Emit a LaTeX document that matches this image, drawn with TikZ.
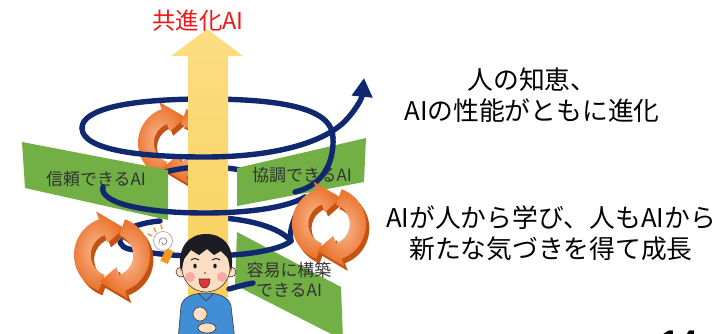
\documentclass[tikz,border=0pt]{standalone}
\usepackage{fontspec}
\setmainfont{Noto Sans CJK JP}
\newfontfamily\pagefont{Liberation Sans}
\usetikzlibrary{arrows.meta}

\definecolor{navy}{RGB}{16,40,112}
\definecolor{arrowyellow}{RGB}{249,208,92}
\definecolor{arrowlight}{RGB}{251,222,130}
\definecolor{bannergreen}{RGB}{114,176,70}
\definecolor{orangemain}{RGB}{234,112,40}
\definecolor{orangelight}{RGB}{248,185,145}
\definecolor{orangedark}{RGB}{196,82,18}
\definecolor{titlered}{RGB}{238,24,24}
\definecolor{textgray}{RGB}{50,50,50}
\definecolor{shirtblue}{RGB}{64,142,214}
\definecolor{skin}{RGB}{252,222,196}
\definecolor{cheek}{RGB}{246,170,160}
\definecolor{hairblack}{RGB}{28,28,36}
\definecolor{personline}{RGB}{70,50,40}
\definecolor{mouthred}{RGB}{226,50,60}
\definecolor{bulborange}{RGB}{245,150,30}

\tikzset{
	spiral/.style={draw=navy, line width=4.6pt, line cap=round},
	banner/.style={fill=bannergreen},
	bannertext/.style={text=textgray, font=\fontsize{14.5}{17}\selectfont, align=center, inner sep=0pt},
	righttext/.style={font=\fontsize{22}{26}\selectfont, align=center},
	recycleside/.style={fill=orangedark},
	recycleface/.style={inner color=orangelight, outer color=orangemain},
	person/.style={draw=personline, line width=0.5pt},
	bulbray/.style={draw=bulborange, line width=1.3pt, line cap=round}
}

\newcommand{\recycle}[4]{%
	\begin{scope}[shift={(#1,#2)}, yscale=-1, scale=#3, rotate=#4]
		\foreach \r in {0,180}
			\fill[recycleside, shift={(0.09,-0.12)}, rotate=\r] (250:1) arc[start angle=250, end angle=110, radius=1] -- (110:1.22) -- (65:0.78) -- (110:0.34) -- (110:0.56) arc[start angle=110, end angle=250, radius=0.56] -- cycle;
		\foreach \r in {0,180}
			\shade[recycleface, rotate=\r] (250:1) arc[start angle=250, end angle=110, radius=1] -- (110:1.22) -- (65:0.78) -- (110:0.34) -- (110:0.56) arc[start angle=110, end angle=250, radius=0.56] -- cycle;
	\end{scope}}

\begin{document}
\begin{tikzpicture}[x=0.03cm, y=-0.03cm]
	\useasboundingbox (0,0) rectangle (722,334);

	\recycle{174}{143}{36}{0}
	\draw[spiral] (333,138) .. controls (333,112) and (295,99) .. (205,99) .. controls (125,99) and (82,110) .. (82,128);
	\draw[spiral] (295,192) .. controls (268,175) and (242,167) .. (205,167) .. controls (183,167) and (168,171) .. (150,176) .. controls (128,181) and (108,182) .. (103,187);
	\draw[spiral] (291,241) .. controls (280,228) and (250,218) .. (205,217);
	\draw[spiral] (160,221) .. controls (145,222) and (122,228) .. (120,238) .. controls (119,246) and (125,249) .. (135,250);

	\fill[banner] (22,142) -- (168,170) -- (168,220) -- (25,188) -- cycle;
	\fill[banner] (237,168) -- (366,138) -- (364,182) -- (237,206) -- cycle;
	\fill[banner] (237,232) -- (341,287) -- (343,340) -- (235,285) -- cycle;
	\node[bannertext] (trust) at (96,179) {信頼できるAI};
	\node[bannertext] (coop) at (302,175) {協調できるAI};
	\node[bannertext] (easy) at (289,280) {容易に構築\\できるAI};

	\shade[top color=arrowlight, bottom color=arrowyellow] (188,297) -- (188,56) -- (171,56) -- (207,29) -- (243,56) -- (228,56) -- (228,297) -- cycle;

	\draw[spiral, -{Triangle[width=17pt, length=16pt]}] (82,128) .. controls (82,150) and (140,157) .. (205,157) .. controls (262,157) and (315,147) .. (342,124) .. controls (355,112) and (362,98) .. (364,78);
	\draw[spiral] (333,138) .. controls (334,160) and (325,185) .. (295,192);
	\draw[spiral] (103,187) .. controls (99,202) and (140,213) .. (205,213) .. controls (255,213) and (290,206) .. (305,197);
	\draw[spiral] (305,197) .. controls (298,210) and (288,228) .. (291,241);
	\draw[spiral] (135,250) .. controls (160,255) and (180,256) .. (205,256) .. controls (245,256) and (280,250) .. (291,241);
	\draw[spiral] (253,283) .. controls (243,285) and (236,287) .. (229,289);

	\recycle{112}{255}{38}{0}
	\recycle{329}{224}{37}{0}

	\draw[bulbray] (148,234) -- (152,236);
	\draw[bulbray] (154,228) -- (156,232);
	\draw[bulbray] (161,225) -- (162,229);
	\fill[bulborange, rotate around={-25:(167,256)}] (163,249) rectangle (171,263);
	\draw[fill=white, draw=gray!70, line width=0.6pt] (163,241) circle (9.5);
	\draw[gray, line width=0.6pt] (159,244) .. controls (157,238) and (166,235) .. (167,241) .. controls (167,245) and (161,246) .. (162,242);

	\fill[shirtblue, person] (178,340) -- (181,306) .. controls (183,297) and (193,293) .. (206,293) .. controls (219,293) and (229,297) .. (231,306) -- (235,340) -- cycle;
	\draw[person] (198,293) -- (206,301) -- (214,293);
	\fill[skin, person] (200,314) ellipse (7 and 7);
	\fill[skin, person] (207,328) ellipse (9 and 5);
	\fill[skin, person] (181,272) circle (5);
	\fill[skin, person] (231,272) circle (5);
	\fill[skin, person] (206,268) ellipse (24 and 24);
	\fill[cheek] (190,277) circle (5);
	\fill[cheek] (222,277) circle (5);
	\fill[hairblack] (181,272) .. controls (176,246) and (190,234) .. (206,234) .. controls (223,234) and (236,246) .. (231,272) -- (228,258) -- (221,251) -- (214,255) -- (207,249) -- (199,255) -- (191,250) -- (184,259) -- cycle;
	\draw[hairblack, line width=0.8pt] (191,260) .. controls (194,258) and (197,258) .. (199,260);
	\draw[hairblack, line width=0.8pt] (212,260) .. controls (214,258) and (217,258) .. (220,260);
	\fill[hairblack] (195,266) ellipse (1.7 and 2.4);
	\fill[hairblack] (215,266) ellipse (1.7 and 2.4);
	\fill[personline] (205,273) circle (0.8);
	\fill[mouthred, person] (199,279) -- (210,279) .. controls (210,291) and (199,291) .. (199,279) -- cycle;

	\node[text=titlered, font=\fontsize{20}{24}\selectfont] (title) at (198,21) {共進化AI};
	\node[righttext] (wisdom) at (532,95) {人の知恵、\\AIの性能がともに進化};
	\node[righttext] (growth) at (551,233) {AIが人から学び、人もAIから\\新たな気づきを得て成長};
	\node[anchor=north, inner sep=0pt, font=\pagefont\bfseries\fontsize{28}{30}\selectfont] (page) at (679,330.5) {14};
\end{tikzpicture}
\end{document}
